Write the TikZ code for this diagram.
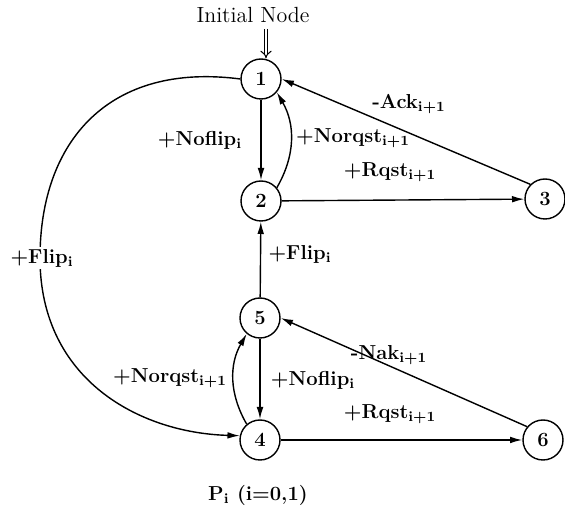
\documentclass[tikz,border=0pt]{standalone}
\usepackage{amsmath}
\usetikzlibrary{arrows.meta}

\begin{document}
\begin{tikzpicture}[x=0.02cm, y=-0.02cm, line width=0.8pt,
    >={Latex[length=7pt,width=3.8pt]},
    state/.style={draw, circle, minimum size=0.8cm, inner sep=0pt, font=\fontsize{11.5}{13}\selectfont\bfseries},
    lbl/.style={font=\fontsize{11.5}{13}\selectfont\bfseries\boldmath, inner sep=1pt}]
            \useasboundingbox (0,0) rectangle (565,519);
            \node[state] (n1) at (261,79) {1};
            \node[state] (n2) at (261,201) {2};
            \node[state] (n3) at (545,199) {3};
            \node[state] (n5) at (260,318) {5};
            \node[state] (n4) at (260,440) {4};
            \node[state] (n6) at (543,440) {6};
            \node[font=\fontsize{12.5}{14}\selectfont, inner sep=1pt] (init) at (253,15) {Initial Node};
            \coordinate (start) at (266,29);
            \draw[double, double distance=1.6pt, line width=0.6pt, -{Implies}] (start) -- (start |- n1.north);
            \draw[->] (n1) -- (n2);
            \draw[->] (n2.40) to[bend right=30] (n1.-40);
            \draw[->] (n2) -- (n3);
            \draw[->] (n3.135) -- (n1.east);
            \draw[->] (n5) -- (n2);
            \draw[->] (n5) -- (n4);
            \draw[->] (n4.130) to[bend left=30] (n5.-130);
            \draw[->] (n4) -- (n6);
            \draw[->] (n6.140) -- (n5.east);
            \draw[->] (n1.west) .. controls (110,62) and (40,140) .. (40,258)
                .. controls (40,380) and (140,433) .. (n4.168);
            \node[lbl] (l1) at (200,140) {+Noflip$_{\mathrm{i}}$};
            \node[lbl] (l2) at (353,138) {+Norqst$_{\mathrm{i+1}}$};
            \node[lbl] (l3) at (409,104) {-Ack$_{\mathrm{i+1}}$};
            \node[lbl] (l4) at (390,172) {+Rqst$_{\mathrm{i+1}}$};
            \node[lbl, fill=white] (l5) at (42,258) {+Flip$_{\mathrm{i}}$};
            \node[lbl] (l6) at (300,254) {+Flip$_{\mathrm{i}}$};
            \node[lbl] (l7) at (170,378) {+Norqst$_{\mathrm{i+1}}$};
            \node[lbl] (l8) at (313,380) {+Noflip$_{\mathrm{i}}$};
            \node[lbl] (l9) at (389,355) {-Nak$_{\mathrm{i+1}}$};
            \node[lbl] (l10) at (390,414) {+Rqst$_{\mathrm{i+1}}$};
            \node[lbl] (cap) at (258,495) {P$_{\mathrm{i}}$ (i=0,1)};
        \end{tikzpicture}
\end{document}
